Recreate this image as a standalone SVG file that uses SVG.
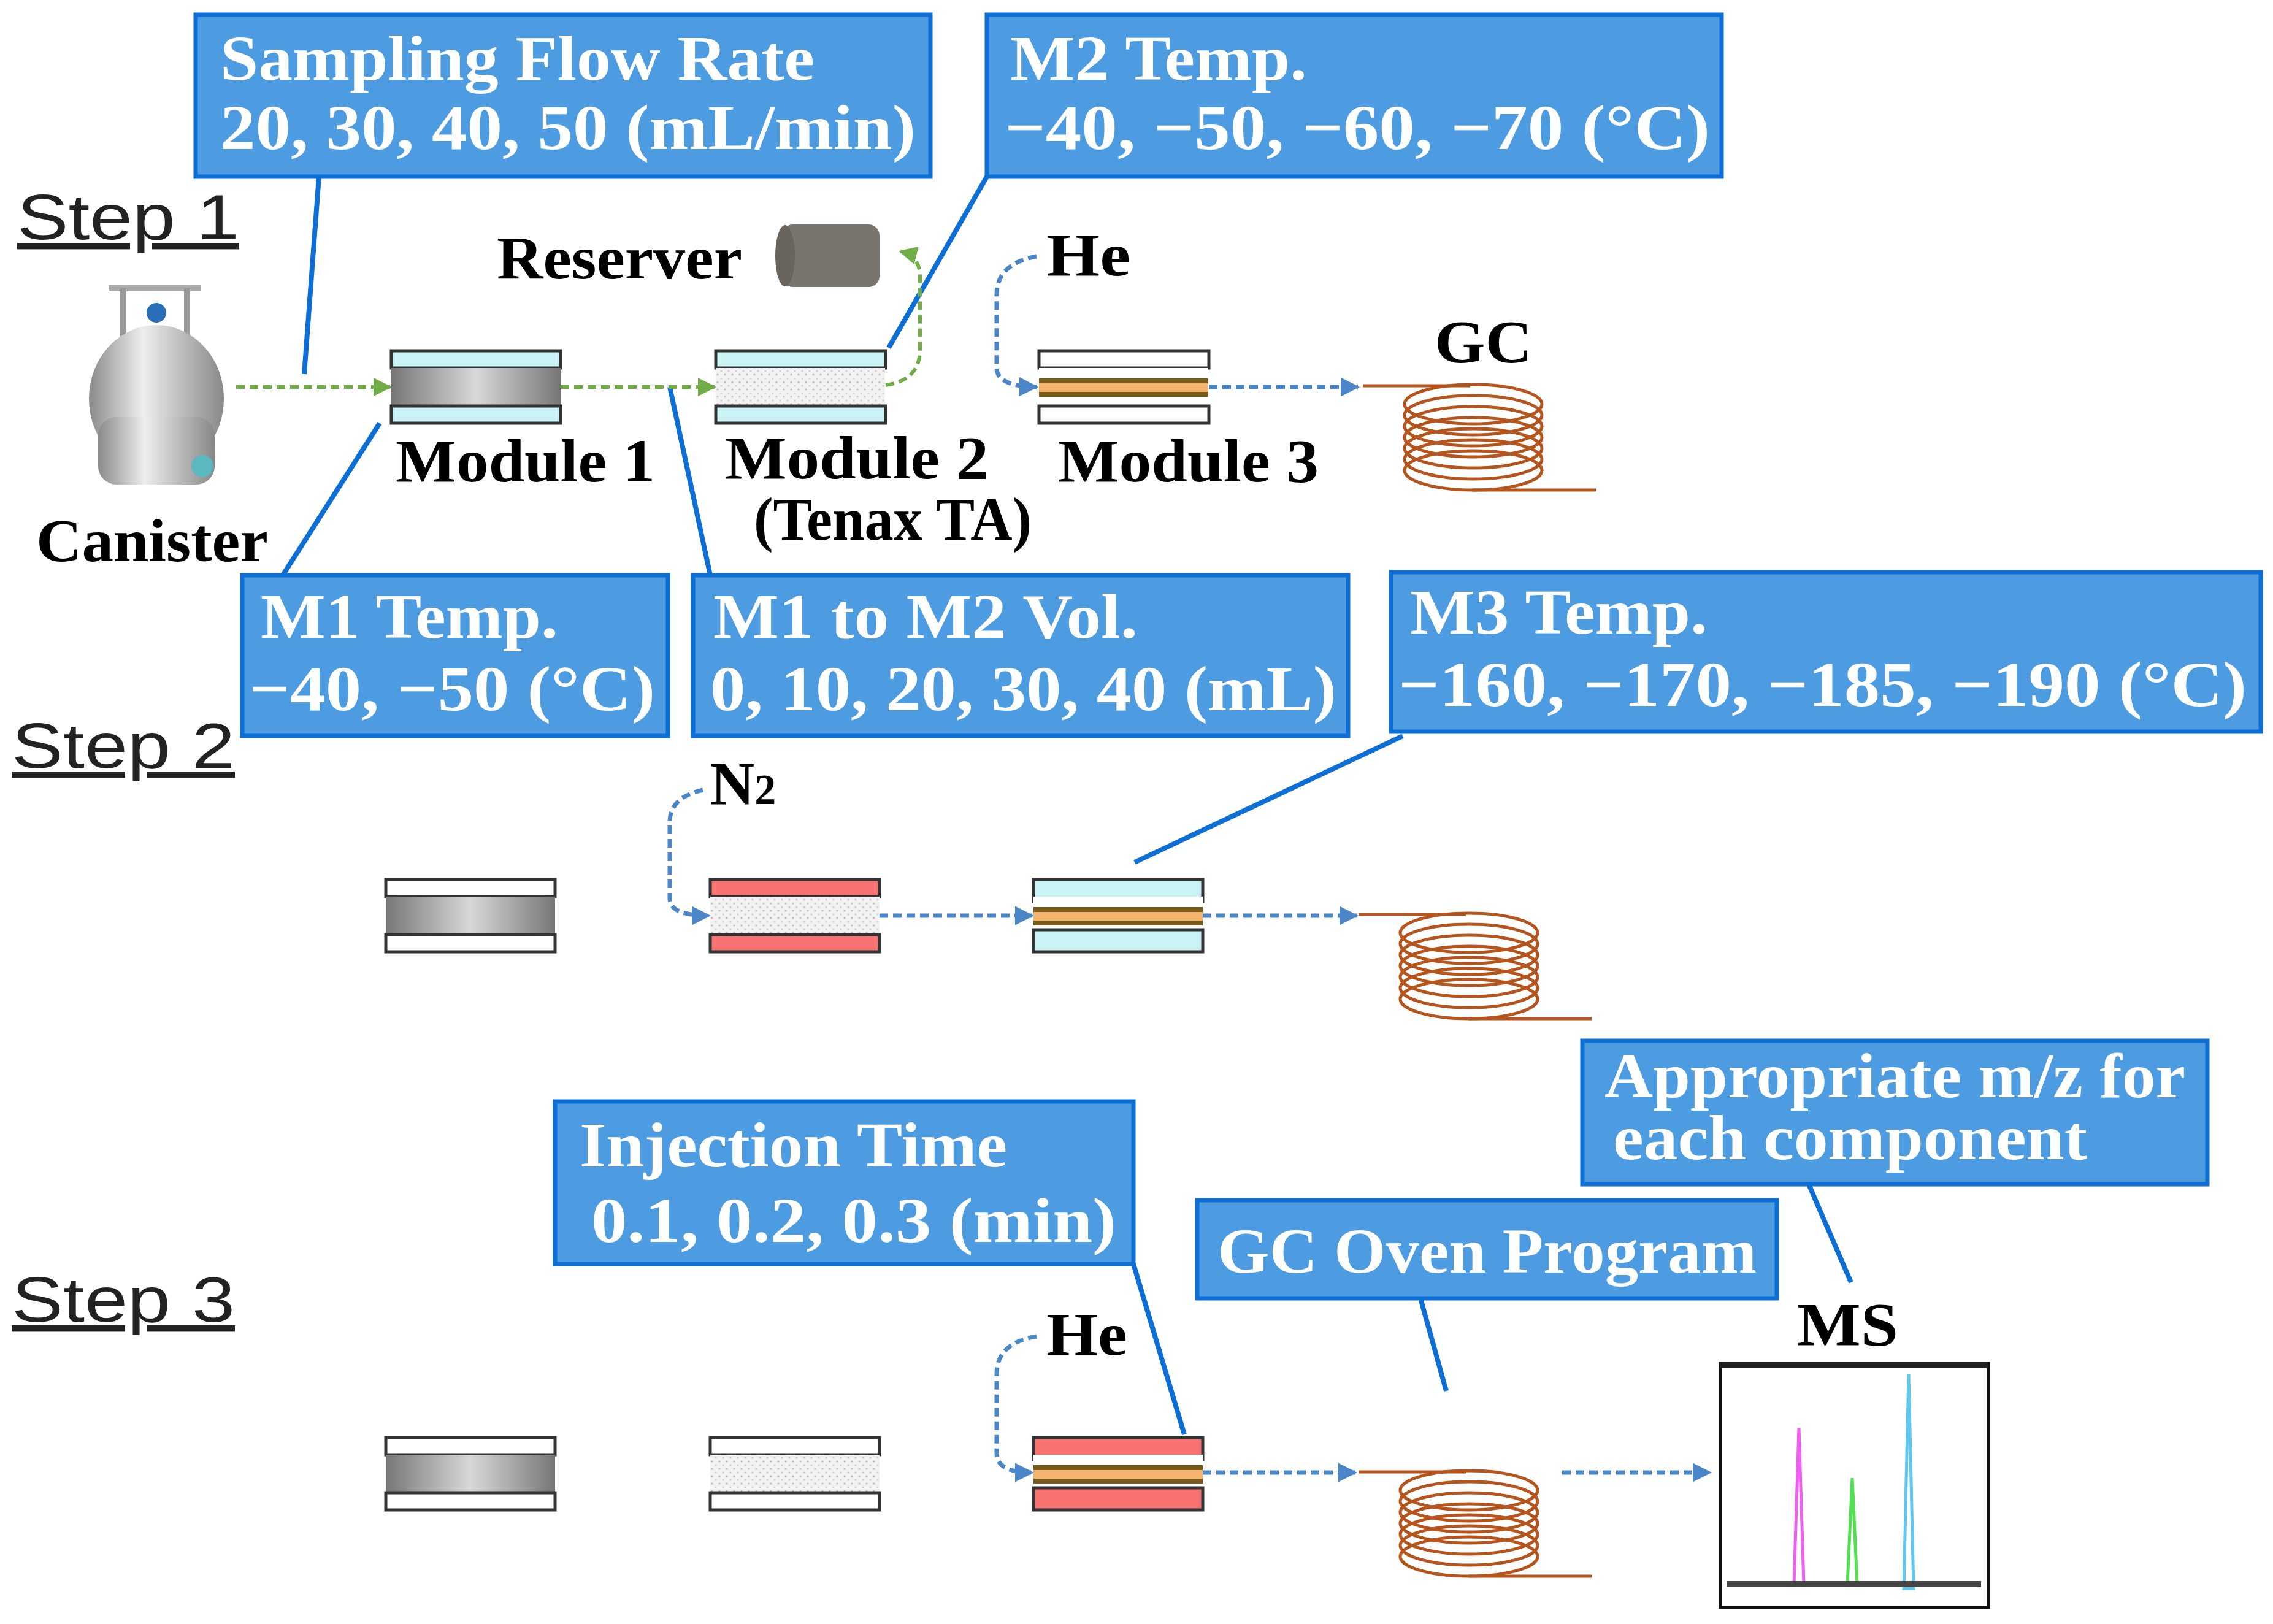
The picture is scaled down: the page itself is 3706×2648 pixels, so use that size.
<svg xmlns="http://www.w3.org/2000/svg" width="3706" height="2648" viewBox="0 0 3706 2648">
<style>
.box{fill:#4d9be0;stroke:#0d6fd6;stroke-width:7}
.bt{font-family:"Liberation Serif",serif;font-weight:bold;font-size:104px;fill:#fff}
.lb{font-family:"Liberation Serif",serif;font-weight:bold;font-size:100px;fill:#000}
.st{font-family:"Liberation Sans",sans-serif;font-size:104px;fill:#222;text-decoration:underline}
.cl{stroke:#0d6fd6;stroke-width:8;fill:none}
.ga{stroke:#70ad47;stroke-width:6;stroke-dasharray:14 8;fill:none}
.ba{stroke:#4a86c8;stroke-width:7;stroke-dasharray:14 8;fill:none}
.bar{stroke:#333;stroke-width:5}
.cy{fill:#c9f3f5}
.wh{fill:#fff}
.rd{fill:#f87272}
</style>
<defs>
<marker id="mg" viewBox="0 0 10 10" refX="9" refY="5" markerWidth="5" markerHeight="5" orient="auto" markerUnits="strokeWidth"><path d="M0 0L10 5L0 10z" fill="#70ad47"/></marker>
<marker id="mb" viewBox="0 0 10 10" refX="9" refY="5" markerWidth="4.5" markerHeight="5" orient="auto" markerUnits="strokeWidth"><path d="M0 0L10 5L0 10z" fill="#4a86c8"/></marker>
<linearGradient id="gr" x1="0" y1="0" x2="1" y2="0"><stop offset="0" stop-color="#777"/><stop offset="0.5" stop-color="#d8d8d8"/><stop offset="1" stop-color="#777"/></linearGradient>
<pattern id="tn" width="12" height="12" patternUnits="userSpaceOnUse"><rect width="12" height="12" fill="#f2f2f2"/><circle cx="3" cy="3" r="1.6" fill="#bbb"/><circle cx="9" cy="9" r="1.6" fill="#ccc"/></pattern>
<linearGradient id="cn" x1="0" y1="0" x2="1" y2="0"><stop offset="0" stop-color="#8a8a8a"/><stop offset="0.4" stop-color="#eee"/><stop offset="1" stop-color="#888"/></linearGradient>
<g id="coil" fill="none" stroke="#b5541c" stroke-width="5">
<line x1="0" y1="0" x2="175" y2="0"/>
<ellipse cx="180" cy="30" rx="112" ry="32"/><ellipse cx="180" cy="48" rx="112" ry="32"/><ellipse cx="180" cy="66" rx="112" ry="32"/><ellipse cx="180" cy="84" rx="112" ry="32"/><ellipse cx="180" cy="102" rx="112" ry="32"/><ellipse cx="180" cy="120" rx="112" ry="32"/><ellipse cx="180" cy="138" rx="112" ry="32"/>
<line x1="180" y1="170" x2="380" y2="170"/>
</g>
<g id="mid-grey"><rect x="0" y="28" width="276" height="62" fill="url(#gr)"/></g>
<g id="mid-tenax"><rect x="0" y="28" width="276" height="62" fill="url(#tn)"/></g>
<g id="mid-orange"><rect x="0" y="28" width="276" height="62" fill="#fff"/><rect x="0" y="45" width="276" height="8" fill="#7a5a1a"/><rect x="0" y="53" width="276" height="14" fill="#f5b46e"/><rect x="0" y="67" width="276" height="8" fill="#7a5a1a"/></g>
</defs>
<rect width="3706" height="2648" fill="#fff"/>

<g id="steps">
<text class="st" x="28" y="390" textLength="362" lengthAdjust="spacingAndGlyphs">Step 1</text>
<text class="st" x="19" y="1252" textLength="364" lengthAdjust="spacingAndGlyphs">Step 2</text>
<text class="st" x="19" y="2155" textLength="364" lengthAdjust="spacingAndGlyphs">Step 3</text>
</g>

<g id="connectors">
<line class="cl" x1="520" y1="288" x2="496" y2="610"/>
<line class="cl" x1="1609" y1="288" x2="1449" y2="567"/>
<line class="cl" x1="619" y1="690" x2="461" y2="938"/>
<line class="cl" x1="1092" y1="631" x2="1158" y2="938"/>
<line class="cl" x1="2287" y1="1200" x2="1850" y2="1406"/>
<line class="cl" x1="1848" y1="2061" x2="1931" y2="2339"/>
<line class="cl" x1="2316" y1="2117" x2="2358" y2="2268"/>
<line class="cl" x1="2949" y1="1931" x2="3018" y2="2091"/>
<line class="ga" x1="385" y1="631" x2="636" y2="631" marker-end="url(#mg)"/>
<line class="ga" x1="914" y1="631" x2="1165" y2="631" marker-end="url(#mg)"/>
<path class="ga" d="M1444 628 Q1500 620 1500 570 L1500 450 Q1500 418 1468 410" marker-end="url(#mg)"/>
<path class="ba" d="M1690 418 Q1625 430 1625 480 L1625 600 Q1625 630 1690 631" marker-end="url(#mb)"/>
<line class="ba" x1="1971" y1="631" x2="2214" y2="631" marker-end="url(#mb)"/>
<path class="ba" d="M1146 1288 Q1092 1300 1092 1340 L1092 1465 Q1092 1493 1156 1493" marker-end="url(#mb)"/>
<line class="ba" x1="1434" y1="1493" x2="1683" y2="1493" marker-end="url(#mb)"/>
<line class="ba" x1="1961" y1="1493" x2="2212" y2="1493" marker-end="url(#mb)"/>
<path class="ba" d="M1690 2179 Q1625 2190 1625 2240 L1625 2370 Q1625 2401 1683 2401" marker-end="url(#mb)"/>
<line class="ba" x1="1961" y1="2401" x2="2210" y2="2401" marker-end="url(#mb)"/>
<line class="ba" x1="2547" y1="2401" x2="2788" y2="2401" marker-end="url(#mb)"/>
</g>

<g id="box-sampling"><rect class="box" x="319" y="24" width="1198" height="264"/>
<text class="bt" x="359" y="130" textLength="969" lengthAdjust="spacingAndGlyphs">Sampling Flow Rate</text>
<text class="bt" x="359" y="243" textLength="1134" lengthAdjust="spacingAndGlyphs">20, 30, 40, 50 (mL/min)</text></g>
<g id="box-m2temp"><rect class="box" x="1609" y="24" width="1198" height="264"/>
<text class="bt" x="1647" y="130" textLength="484" lengthAdjust="spacingAndGlyphs">M2 Temp.</text>
<text class="bt" x="1638" y="243" textLength="1150" lengthAdjust="spacingAndGlyphs">−40, −50, −60, −70 (°C)</text></g>
<g id="box-m1temp"><rect class="box" x="395" y="938" width="694" height="262"/>
<text class="bt" x="425" y="1040" textLength="485" lengthAdjust="spacingAndGlyphs">M1 Temp.</text>
<text class="bt" x="406" y="1158" textLength="662" lengthAdjust="spacingAndGlyphs">−40, −50 (°C)</text></g>
<g id="box-m1m2"><rect class="box" x="1130" y="938" width="1068" height="262"/>
<text class="bt" x="1163" y="1040" textLength="692" lengthAdjust="spacingAndGlyphs">M1 to M2 Vol.</text>
<text class="bt" x="1158" y="1158" textLength="1021" lengthAdjust="spacingAndGlyphs">0, 10, 20, 30, 40 (mL)</text></g>
<g id="box-m3temp"><rect class="box" x="2268" y="933" width="1418" height="260"/>
<text class="bt" x="2299" y="1033" textLength="485" lengthAdjust="spacingAndGlyphs">M3 Temp.</text>
<text class="bt" x="2280" y="1151" textLength="1383" lengthAdjust="spacingAndGlyphs">−160, −170, −185, −190 (°C)</text></g>
<g id="box-mz"><rect class="box" x="2580" y="1697" width="1019" height="234"/>
<text class="bt" x="2616" y="1789" textLength="947" lengthAdjust="spacingAndGlyphs">Appropriate m/z for</text>
<text class="bt" x="2630" y="1890" textLength="773" lengthAdjust="spacingAndGlyphs">each component</text></g>
<g id="box-inj"><rect class="box" x="905" y="1796" width="943" height="265"/>
<text class="bt" x="945" y="1902" textLength="697" lengthAdjust="spacingAndGlyphs">Injection Time</text>
<text class="bt" x="964" y="2025" textLength="856" lengthAdjust="spacingAndGlyphs">0.1, 0.2, 0.3 (min)</text></g>
<g id="box-oven"><rect class="box" x="1952" y="1957" width="945" height="160"/>
<text class="bt" x="1985" y="2075" textLength="879" lengthAdjust="spacingAndGlyphs">GC Oven Program</text></g>

<g id="canister">
<rect x="178" y="465" width="150" height="10" fill="#aaa"/>
<rect x="196" y="470" width="10" height="120" fill="#999"/><rect x="300" y="470" width="10" height="120" fill="#999"/>
<circle cx="255" cy="510" r="16" fill="#2a6fb8"/>
<ellipse cx="255" cy="650" rx="110" ry="120" fill="url(#cn)"/>
<rect x="160" y="680" width="190" height="110" rx="30" fill="url(#cn)"/>
<circle cx="330" cy="760" r="18" fill="#5bb8c0"/>
<text class="lb" x="59" y="915" textLength="378" lengthAdjust="spacingAndGlyphs">Canister</text>
</g>

<g id="reserver">
<text class="lb" x="810" y="454" textLength="400" lengthAdjust="spacingAndGlyphs">Reserver</text>
<rect x="1275" y="366" width="159" height="102" rx="18" fill="#7a746e"/>
<ellipse cx="1280" cy="417" rx="16" ry="50" fill="#6a645e"/>
</g>

<g id="s1-module1"><rect class="bar cy" x="638" y="572" width="276" height="28"/><use href="#mid-grey" x="638" y="572"/><rect class="bar cy" x="638" y="662" width="276" height="28"/>
<text class="lb" x="645" y="785" textLength="423" lengthAdjust="spacingAndGlyphs">Module 1</text></g>
<g id="s1-module2"><rect class="bar cy" x="1167" y="572" width="277" height="28"/><use href="#mid-tenax" x="1167" y="572"/><rect class="bar cy" x="1167" y="662" width="277" height="28"/>
<text class="lb" x="1182" y="780" textLength="430" lengthAdjust="spacingAndGlyphs">Module 2</text>
<text class="lb" x="1229" y="880" font-size="92" textLength="453" lengthAdjust="spacingAndGlyphs">(Tenax TA)</text></g>
<g id="s1-module3"><rect class="bar wh" x="1694" y="572" width="277" height="28"/><use href="#mid-orange" x="1694" y="572"/><rect class="bar wh" x="1694" y="662" width="277" height="28"/>
<text class="lb" x="1725" y="785" textLength="425" lengthAdjust="spacingAndGlyphs">Module 3</text>
<text class="lb" x="1706" y="449" textLength="137" lengthAdjust="spacingAndGlyphs">He</text></g>
<g id="s1-gc"><text class="lb" x="2339" y="591" textLength="159" lengthAdjust="spacingAndGlyphs">GC</text><use href="#coil" x="2222" y="629"/></g>

<g id="s2-module1"><rect class="bar wh" x="629" y="1434" width="276" height="28"/><use href="#mid-grey" x="629" y="1434"/><rect class="bar wh" x="629" y="1524" width="276" height="28"/></g>
<g id="s2-module2"><rect class="bar rd" x="1158" y="1434" width="276" height="28"/><use href="#mid-tenax" x="1158" y="1434"/><rect class="bar rd" x="1158" y="1524" width="276" height="28"/>
<text class="lb" x="1158" y="1311">N<tspan font-size="70">2</tspan></text></g>
<g id="s2-module3"><rect class="bar cy" x="1685" y="1434" width="276" height="36"/><use href="#mid-orange" x="1685" y="1434"/><rect class="bar cy" x="1685" y="1516" width="276" height="36"/></g>
<g id="s2-gc"><use href="#coil" x="2215" y="1491"/></g>

<g id="s3-module1"><rect class="bar wh" x="629" y="2344" width="276" height="28"/><use href="#mid-grey" x="629" y="2344"/><rect class="bar wh" x="629" y="2434" width="276" height="28"/></g>
<g id="s3-module2"><rect class="bar wh" x="1158" y="2344" width="276" height="28"/><use href="#mid-tenax" x="1158" y="2344"/><rect class="bar wh" x="1158" y="2434" width="276" height="28"/></g>
<g id="s3-module3"><rect class="bar rd" x="1685" y="2344" width="276" height="36"/><use href="#mid-orange" x="1685" y="2344"/><rect class="bar rd" x="1685" y="2426" width="276" height="36"/>
<text class="lb" x="1706" y="2209" textLength="132" lengthAdjust="spacingAndGlyphs">He</text></g>
<g id="s3-gc"><use href="#coil" x="2215" y="2400"/></g>
<g id="s3-ms">
<text class="lb" x="2930" y="2193" textLength="165" lengthAdjust="spacingAndGlyphs">MS</text>
<rect x="2805" y="2223" width="437" height="398" fill="#fff" stroke="#111" stroke-width="5"/>
<rect x="2805" y="2221" width="437" height="10" fill="#222"/>
<polygon points="2925,2583 2933,2328 2941,2583" fill="none" stroke="#f060f0" stroke-width="5"/>
<polygon points="3012,2583 3020,2410 3028,2583" fill="none" stroke="#50e050" stroke-width="5"/>
<polygon points="3104,2590 3112,2240 3120,2590" fill="none" stroke="#60c8f0" stroke-width="5"/>
<rect x="2815" y="2578" width="415" height="10" fill="#444"/>
</g>
</svg>
